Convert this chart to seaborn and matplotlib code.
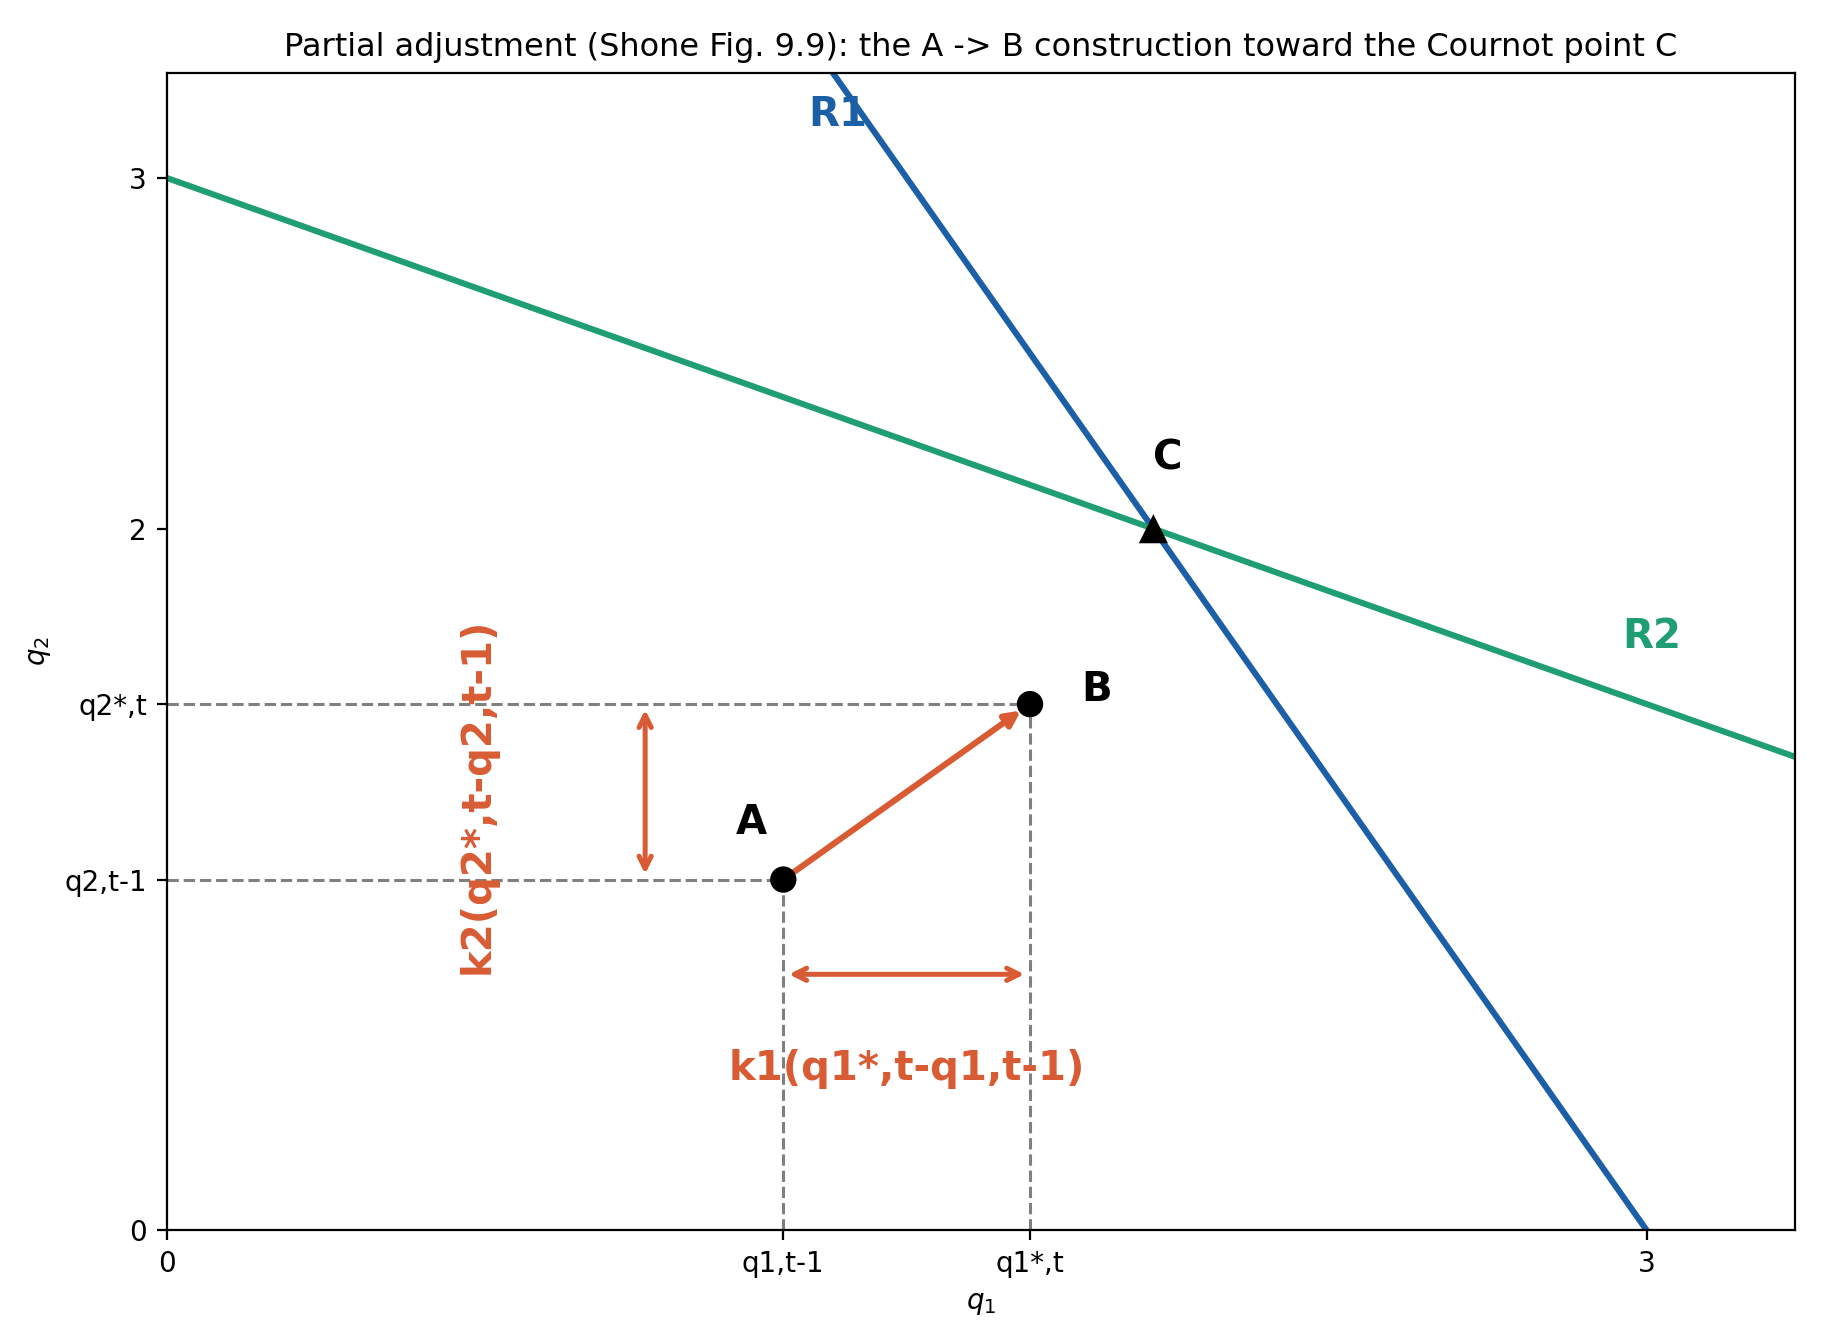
import matplotlib
matplotlib.use("Agg")
import matplotlib.pyplot as plt
import seaborn as sns

# reaction curves
r1_q1 = [1.35, 2.0, 3.0]
r1_q2 = [3.3, 2.0, 0.0]
r2_q1 = [0.0, 2.0, 3.3]
r2_q2 = [3.0, 2.0, 1.35]

# points A, B and the Cournot point C
pt_names = ["A", "B"]
pt_q1 = [1.25, 1.75]
pt_q2 = [1.0, 1.5]
cournot_q1 = [2.0]
cournot_q2 = [2.0]

xtick_vals = [0, 1.25, 1.75, 3]
xtick_labels = ["0", "q1,t-1", "q1*,t", "3"]
ytick_vals = [0, 1.0, 1.5, 2, 3]
ytick_labels = ["0", "q2,t-1", "q2*,t", "2", "3"]

blue = "#1b5fa6"
green = "#1f9e73"
orange = "#d85b33"

fig, ax = plt.subplots(figsize=(9.12, 6.72), dpi=200)
fig.subplots_adjust(left=0.0913, right=0.984, bottom=0.0845, top=0.946)

sns.lineplot(x=r1_q1, y=r1_q2, ax=ax, color=blue, lw=2.2, sort=False, estimator=None)
sns.lineplot(x=r2_q1, y=r2_q2, ax=ax, color=green, lw=2.2, sort=False, estimator=None)

# dashed guides to the axes
for x, y in zip(pt_q1, pt_q2):
    ax.plot([0, x], [y, y], ls="--", color="gray", lw=1.1)
    ax.plot([x, x], [0, y], ls="--", color="gray", lw=1.1)

# A -> B adjustment
ax.annotate("", xy=(pt_q1[1], pt_q2[1]), xytext=(pt_q1[0], pt_q2[0]),
            arrowprops=dict(arrowstyle="-|>", color=orange, lw=2.2, mutation_scale=11,
                            shrinkA=0, shrinkB=4))

# horizontal / vertical adjustment arrows
ax.annotate("", xy=(pt_q1[1], 0.73), xytext=(pt_q1[0], 0.73),
            arrowprops=dict(arrowstyle="<->", color=orange, lw=1.8, mutation_scale=11))
ax.annotate("", xy=(0.97, pt_q2[1]), xytext=(0.97, pt_q2[0]),
            arrowprops=dict(arrowstyle="<->", color=orange, lw=1.8, mutation_scale=11))

sns.scatterplot(x=pt_q1, y=pt_q2, ax=ax, color="black", s=90, zorder=5, edgecolor="none")
sns.scatterplot(x=cournot_q1, y=cournot_q2, ax=ax, color="black", marker="^", s=110,
                zorder=5, edgecolor="none")

ax.text(1.185, 1.16, "A", fontsize=14.5, fontweight="bold", ha="center", va="center")
ax.text(1.885, 1.54, "B", fontsize=14.5, fontweight="bold", ha="center", va="center")
ax.text(2.03, 2.20, "C", fontsize=14.5, fontweight="bold", ha="center", va="center")
ax.text(1.36, 3.18, "R1", fontsize=14.5, fontweight="bold", color=blue, ha="center", va="center")
ax.text(3.01, 1.69, "R2", fontsize=14.5, fontweight="bold", color=green, ha="center", va="center")

ax.text(1.5, 0.46, "k1(q1*,t-q1,t-1)", fontsize=14.5, fontweight="bold", color=orange,
        ha="center", va="center")
ax.text(0.63, 1.24, "k2(q2*,t-q2,t-1)", fontsize=14.5, fontweight="bold", color=orange,
        ha="center", va="center", rotation=90)

ax.set_xlim(0, 3.3)
ax.set_ylim(0, 3.3)
ax.set_xticks(xtick_vals)
ax.set_xticklabels(xtick_labels)
ax.set_yticks(ytick_vals)
ax.set_yticklabels(ytick_labels)
ax.set_xlabel("$q_1$")
ax.set_ylabel("$q_2$")
ax.set_title("Partial adjustment (Shone Fig. 9.9): the A -> B construction toward the Cournot point C",
             fontsize=11.5)

fig.savefig("out.png", dpi=200)
